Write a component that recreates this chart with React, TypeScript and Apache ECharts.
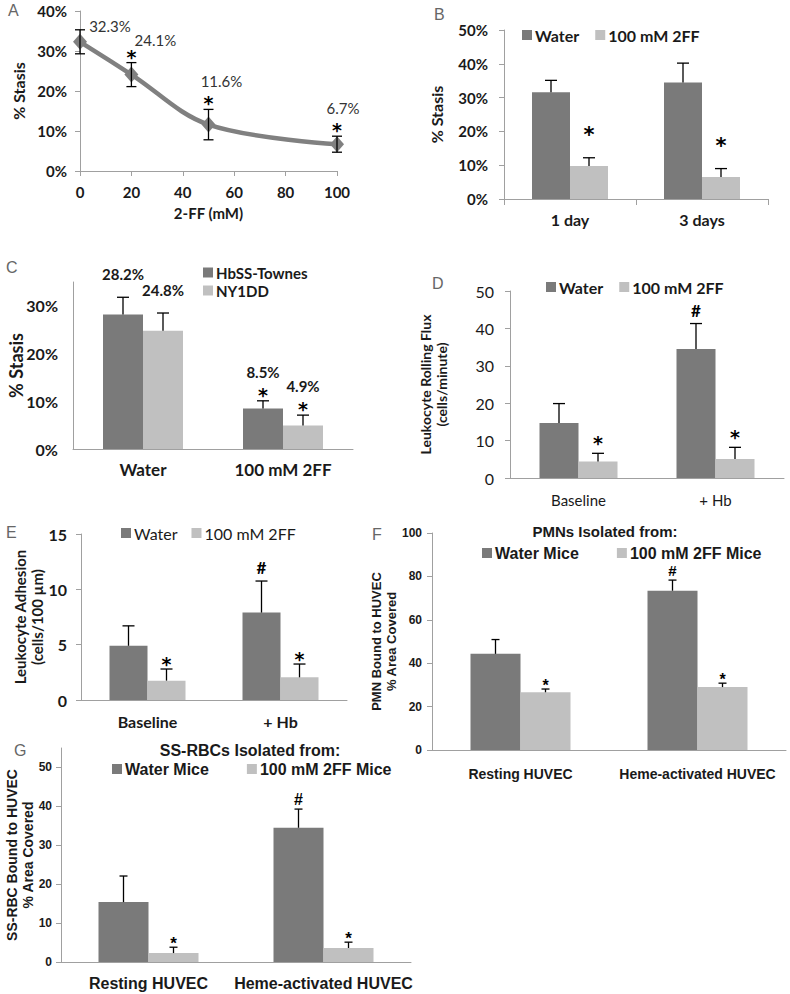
import React, { useEffect, useRef } from 'react';
import * as echarts from 'echarts';

// ---------- Panel A ----------
const aDose = [0, 20, 50, 100];
const aStasis = [32.3, 24.1, 11.6, 6.7];
const aErr = [3.0, 3.0, 3.8, 2.0];
const aSig = ['', '*', '*', '*'];
const aLabels = ['32.3%', '24.1%', '11.6%', '6.7%'];

// ---------- Panel B ----------
const bCats = ['1 day', '3 days'];
const bWater = [31.6, 34.5];
const bWaterErr = [3.5, 5.7];
const bFF = [9.8, 6.5];
const bFFErr = [2.4, 2.5];
const bFFSig = ['*', '*'];

// ---------- Panel C ----------
const cCats = ['Water', '100 mM 2FF'];
const cTownes = [28.2, 8.5];
const cTownesErr = [3.6, 1.6];
const cTownesSig = ['', '*'];
const cTownesLabels = ['28.2%', '8.5%'];
const cNY = [24.8, 4.9];
const cNYErr = [3.7, 2.2];
const cNYSig = ['', '*'];
const cNYLabels = ['24.8%', '4.9%'];

// ---------- Panel D ----------
const dCats = ['Baseline', '+ Hb'];
const dWater = [14.7, 34.5];
const dWaterErr = [5.2, 6.8];
const dWaterSig = ['', '#'];
const dFF = [4.4, 5.1];
const dFFErr = [2.2, 3.1];
const dFFSig = ['*', '*'];

// ---------- Panel E ----------
const eCats = ['Baseline', '+ Hb'];
const eWater = [4.9, 7.9];
const eWaterErr = [1.8, 2.85];
const eWaterSig = ['', '#'];
const eFF = [1.75, 2.05];
const eFFErr = [1.05, 1.2];
const eFFSig = ['*', '*'];

// ---------- Panel F ----------
const fCats = ['Resting HUVEC', 'Heme-activated HUVEC'];
const fWater = [44.3, 73.4];
const fWaterErr = [6.6, 4.9];
const fWaterSig = ['', '#'];
const fFF = [26.6, 29.0];
const fFFErr = [1.5, 1.8];
const fFFSig = ['*', '*'];

// ---------- Panel G ----------
const gCats = ['Resting HUVEC', 'Heme-activated HUVEC'];
const gWater = [15.4, 34.5];
const gWaterErr = [6.7, 4.8];
const gWaterSig = ['', '#'];
const gFF = [2.3, 3.6];
const gFFErr = [1.5, 1.5];
const gFFSig = ['*', '*'];

const CAL = 'Lato, "Open Sans", sans-serif';
const ARI = '"Liberation Sans", Arial, sans-serif';
const AST = '"DejaVu Sans", sans-serif';
const DARK = '#7a7a7a';
const LIGHT = '#c0c0c0';
const AXIS = '#a0a0a0';
const TXT = '#1a1a1a';

type Group = {
  name: string;
  values: number[];
  err: number[];
  color: string;
  sig?: string[];
  labels?: string[];
};

type BarOpts = {
  barWidth: number;
  cap: number;
  sigFont: string;
  sigSize: number;
  sigGap: number;
  hashFont: string;
  hashSize: number;
  hashGap: number;
  labelFont?: string;
  labelSize?: number;
  labelGap?: number;
  labelGapSig?: number;
};

function barSeries(idx: number, groups: Group[], o: BarOpts): any[] {
  const out: any[] = [];
  const n = groups.length;
  groups.forEach((g, gi) => {
    const dx = (gi - (n - 1) / 2) * o.barWidth;
    out.push({
      type: 'bar',
      name: g.name,
      xAxisIndex: idx,
      yAxisIndex: idx,
      barWidth: o.barWidth,
      barGap: '0%',
      data: g.values,
      itemStyle: { color: g.color },
      z: 2,
    });
    out.push({
      type: 'custom',
      name: 'err-' + idx + '-' + gi,
      xAxisIndex: idx,
      yAxisIndex: idx,
      encode: { x: 0, y: 1 },
      data: g.values.map((v, i) => [i, v, g.err[i]]),
      z: 3,
      renderItem: (params: any, api: any) => {
        const c = api.value(0);
        const v = api.value(1);
        const e = api.value(2);
        const base = api.coord([c, v]);
        const top = api.coord([c, v + e]);
        const x = base[0] + dx;
        const st = { stroke: '#000', lineWidth: 1.3 };
        return {
          type: 'group',
          children: [
            { type: 'line', shape: { x1: x, y1: base[1], x2: x, y2: top[1] }, style: st },
            { type: 'line', shape: { x1: x - o.cap, y1: top[1], x2: x + o.cap, y2: top[1] }, style: st },
          ],
        };
      },
    });
    out.push({
      type: 'custom',
      name: 'ann-' + idx + '-' + gi,
      xAxisIndex: idx,
      yAxisIndex: idx,
      encode: { x: 0, y: 1 },
      data: g.values.map((v, i) => [i, v + g.err[i]]),
      z: 4,
      silent: true,
      renderItem: (params: any, api: any) => {
        const i = params.dataIndex;
        const p = api.coord([api.value(0), api.value(1)]);
        const x = p[0] + dx;
        const children: any[] = [];
        const s = g.sig ? g.sig[i] : '';
        if (s) {
          const isHash = s === '#';
          children.push({
            type: 'text',
            x,
            y: p[1] - (isHash ? o.hashGap : o.sigGap),
            style: {
              text: s,
              fontFamily: isHash ? o.hashFont : o.sigFont,
              fontWeight: 'bold',
              fontSize: isHash ? o.hashSize : o.sigSize,
              fill: '#000',
              align: 'center',
              verticalAlign: 'middle',
            },
          });
        }
        if (g.labels && g.labels[i]) {
          children.push({
            type: 'text',
            x,
            y: p[1] - (s ? o.labelGapSig || 0 : o.labelGap || 0),
            style: {
              text: g.labels[i],
              fontFamily: o.labelFont,
              fontWeight: 'bold',
              fontSize: o.labelSize,
              fill: TXT,
              align: 'center',
              verticalAlign: 'middle',
            },
          });
        }
        return { type: 'group', children };
      },
    });
  });
  return out;
}

function catX(idx: number, data: string[], font: string, size: number, weight: string, margin: number, ticks = false) {
  return {
    gridIndex: idx,
    type: 'category',
    data,
    axisLine: { show: true, lineStyle: { color: AXIS, width: 1 } },
    axisTick: { show: ticks, length: 6, lineStyle: { color: AXIS } },
    axisLabel: { fontFamily: font, fontSize: size, fontWeight: weight, color: TXT, margin, interval: 0 },
    splitLine: { show: false },
  };
}

function valY(idx: number, max: number, interval: number, o: any) {
  return {
    gridIndex: idx,
    type: 'value',
    min: 0,
    max,
    interval,
    axisLine: { show: true, lineStyle: { color: AXIS, width: 1 } },
    axisTick: { show: o.ticks !== false, length: 5, lineStyle: { color: AXIS } },
    splitLine: { show: false },
    axisLabel: {
      fontFamily: o.font,
      fontSize: o.size,
      fontWeight: o.weight,
      color: TXT,
      margin: o.margin,
      formatter: o.pct ? '{value}%' : '{value}',
      showMaxLabel: o.showMax !== false,
    },
    name: o.name,
    nameLocation: 'middle',
    nameRotate: 90,
    nameGap: o.nameGap,
    nameMoveOverlap: false,
    nameTextStyle: {
      fontFamily: o.nameFont || o.font,
      fontSize: o.nameSize,
      fontWeight: 'bold',
      color: TXT,
      lineHeight: o.nameLH || o.nameSize + 2,
      align: 'center',
    },
  };
}

function legendCfg(left: number, top: number, data: string[], font: string, size: number, weight: string, gap: number, orient = 'horizontal') {
  return {
    left,
    top,
    orient,
    data,
    icon: 'rect',
    itemWidth: 10,
    itemHeight: 10,
    itemGap: gap,
    selectedMode: false,
    padding: 0,
    textStyle: { fontFamily: font, fontSize: size, fontWeight: weight, color: TXT, padding: [0, 0, 0, -2] },
  };
}

function letter(text: string, left: number, top: number) {
  return {
    text,
    left,
    top,
    padding: 0,
    textStyle: { fontFamily: ARI, fontSize: 16, fontWeight: 'normal', color: '#666' },
  };
}

export default function App() {
  const ref = useRef<HTMLDivElement>(null);
  useEffect(() => {
    document.body.style.margin = '0';
    const chart = echarts.init(ref.current!, null, { renderer: 'svg' });

    const aLabelShift = [
      [30, -16],
      [24, -35],
      [13, -44],
      [6, -36],
    ];

    const seriesA: any[] = [
      {
        type: 'line',
        name: 'stasisA',
        xAxisIndex: 0,
        yAxisIndex: 0,
        data: aDose.map((d, i) => [d, aStasis[i]]),
        smooth: 0.35,
        symbol: 'diamond',
        symbolSize: [14, 16],
        lineStyle: { color: '#808080', width: 4.5 },
        itemStyle: { color: '#808080' },
        z: 2,
      },
      {
        type: 'custom',
        name: 'errA',
        xAxisIndex: 0,
        yAxisIndex: 0,
        encode: { x: 0, y: 1 },
        data: aDose.map((d, i) => [d, aStasis[i], aErr[i]]),
        z: 3,
        renderItem: (params: any, api: any) => {
          const x = api.value(0);
          const v = api.value(1);
          const e = api.value(2);
          const hi = api.coord([x, v + e]);
          const lo = api.coord([x, v - e]);
          const st = { stroke: '#000', lineWidth: 1.3 };
          return {
            type: 'group',
            children: [
              { type: 'line', shape: { x1: hi[0], y1: hi[1], x2: lo[0], y2: lo[1] }, style: st },
              { type: 'line', shape: { x1: hi[0] - 5, y1: hi[1], x2: hi[0] + 5, y2: hi[1] }, style: st },
              { type: 'line', shape: { x1: lo[0] - 5, y1: lo[1], x2: lo[0] + 5, y2: lo[1] }, style: st },
            ],
          };
        },
      },
      {
        type: 'custom',
        name: 'annA',
        xAxisIndex: 0,
        yAxisIndex: 0,
        encode: { x: 0, y: 1 },
        data: aDose.map((d, i) => [d, aStasis[i], aErr[i]]),
        z: 4,
        silent: true,
        renderItem: (params: any, api: any) => {
          const i = params.dataIndex;
          const x = api.value(0);
          const v = api.value(1);
          const e = api.value(2);
          const p = api.coord([x, v]);
          const t = api.coord([x, v + e]);
          const children: any[] = [
            {
              type: 'text',
              x: p[0] + aLabelShift[i][0],
              y: p[1] + aLabelShift[i][1],
              style: { text: aLabels[i], fontFamily: CAL, fontSize: 15, fill: '#333', align: 'center', verticalAlign: 'middle' },
            },
          ];
          if (aSig[i]) {
            children.push({
              type: 'text',
              x: t[0],
              y: t[1] - 6,
              style: { text: aSig[i], fontFamily: AST, fontWeight: 'bold', fontSize: 19, fill: '#000', align: 'center', verticalAlign: 'middle' },
            });
          }
          return { type: 'group', children };
        },
      },
    ];

    const series = [
      ...seriesA,
      ...barSeries(1, [
        { name: 'Water', values: bWater, err: bWaterErr, color: DARK },
        { name: '100 mM 2FF', values: bFF, err: bFFErr, color: LIGHT, sig: bFFSig },
      ], { barWidth: 38, cap: 6, sigFont: AST, sigSize: 21, sigGap: 23, hashFont: CAL, hashSize: 16, hashGap: 12 }),
      ...barSeries(2, [
        { name: 'HbSS-Townes', values: cTownes, err: cTownesErr, color: DARK, sig: cTownesSig, labels: cTownesLabels },
        { name: 'NY1DD', values: cNY, err: cNYErr, color: LIGHT, sig: cNYSig, labels: cNYLabels },
      ], { barWidth: 40, cap: 6, sigFont: AST, sigSize: 19, sigGap: 6, hashFont: CAL, hashSize: 16, hashGap: 12, labelFont: CAL, labelSize: 15, labelGap: 23, labelGapSig: 29 }),
      ...barSeries(3, [
        { name: 'Water', values: dWater, err: dWaterErr, color: DARK, sig: dWaterSig },
        { name: '100 mM 2FF', values: dFF, err: dFFErr, color: LIGHT, sig: dFFSig },
      ], { barWidth: 39, cap: 6, sigFont: AST, sigSize: 19, sigGap: 10, hashFont: CAL, hashSize: 17, hashGap: 13 }),
      ...barSeries(4, [
        { name: 'Water', values: eWater, err: eWaterErr, color: DARK, sig: eWaterSig },
        { name: '100 mM 2FF', values: eFF, err: eFFErr, color: LIGHT, sig: eFFSig },
      ], { barWidth: 38, cap: 6, sigFont: AST, sigSize: 19, sigGap: 5, hashFont: CAL, hashSize: 17, hashGap: 14 }),
      ...barSeries(5, [
        { name: 'Water Mice', values: fWater, err: fWaterErr, color: DARK, sig: fWaterSig },
        { name: '100 mM 2FF Mice', values: fFF, err: fFFErr, color: LIGHT, sig: fFFSig },
      ], { barWidth: 50, cap: 4, sigFont: ARI, sigSize: 16, sigGap: 4, hashFont: ARI, hashSize: 15, hashGap: 10 }),
      ...barSeries(6, [
        { name: 'Water Mice', values: gWater, err: gWaterErr, color: DARK, sig: gWaterSig },
        { name: '100 mM 2FF Mice', values: gFF, err: gFFErr, color: LIGHT, sig: gFFSig },
      ], { barWidth: 50, cap: 4, sigFont: ARI, sigSize: 17, sigGap: 4, hashFont: ARI, hashSize: 16, hashGap: 10 }),
    ];

    const option: any = {
      animation: false,
      backgroundColor: '#fff',
      title: [
        letter('A', 8, 2),
        letter('B', 434, 6),
        letter('C', 6, 259),
        letter('D', 432, 275),
        letter('E', 6, 524),
        letter('F', 372, 526),
        letter('G', 14, 742),
        {
          text: 'PMNs Isolated from:',
          left: 605,
          top: 524,
          textAlign: 'center',
          padding: 0,
          textStyle: { fontFamily: ARI, fontSize: 15, fontWeight: 'bold', color: TXT },
        },
        {
          text: 'SS-RBCs Isolated from:',
          left: 250,
          top: 742,
          textAlign: 'center',
          padding: 0,
          textStyle: { fontFamily: ARI, fontSize: 16, fontWeight: 'bold', color: TXT },
        },
      ],
      legend: [
        legendCfg(522, 27, ['Water', '100 mM 2FF'], CAL, 16, 'bold', 16),
        legendCfg(203, 265, ['HbSS-Townes', 'NY1DD'], CAL, 15, 'bold', 3, 'vertical'),
        legendCfg(546, 279, ['Water', '100 mM 2FF'], CAL, 16, 'bold', 16),
        legendCfg(121, 525, ['Water', '100 mM 2FF'], CAL, 16, 'normal', 14),
        legendCfg(482, 545, ['Water Mice', '100 mM 2FF Mice'], ARI, 16, 'bold', 38),
        legendCfg(112, 761, ['Water Mice', '100 mM 2FF Mice'], ARI, 16, 'bold', 38),
      ],
      grid: [
        { left: 80, top: 11, width: 257, height: 160 },
        { left: 504, top: 30, width: 264, height: 169 },
        { left: 73, top: 282, width: 280, height: 167 },
        { left: 510, top: 291, width: 274, height: 187 },
        { left: 81, top: 534, width: 266, height: 166 },
        { left: 432, top: 533, width: 354, height: 217 },
        { left: 61, top: 748, width: 350, height: 214 },
      ],
      xAxis: [
        {
          gridIndex: 0,
          type: 'value',
          min: 0,
          max: 100,
          interval: 20,
          axisLine: { show: true, lineStyle: { color: AXIS } },
          axisTick: { show: true, length: 5, lineStyle: { color: AXIS } },
          splitLine: { show: false },
          axisLabel: { fontFamily: CAL, fontSize: 15, fontWeight: 'bold', color: TXT, margin: 13 },
          name: '2-FF (mM)',
          nameLocation: 'middle',
          nameGap: 34,
          nameMoveOverlap: false,
          nameTextStyle: { fontFamily: CAL, fontSize: 15, fontWeight: 'bold', color: TXT },
        },
        catX(1, bCats, CAL, 16, 'bold', 12, true),
        catX(2, cCats, CAL, 17, 'bold', 12),
        catX(3, dCats, CAL, 15, 'normal', 14),
        catX(4, eCats, CAL, 16, 'bold', 13),
        catX(5, fCats, ARI, 14, 'bold', 17),
        catX(6, gCats, ARI, 16, 'bold', 13),
      ],
      yAxis: [
        valY(0, 40, 10, { font: CAL, size: 15, weight: 'bold', margin: 13, pct: true, name: '% Stasis', nameGap: 53, nameSize: 16 }),
        valY(1, 50, 10, { font: CAL, size: 15, weight: 'bold', margin: 16, pct: true, name: '% Stasis', nameGap: 59, nameSize: 16 }),
        valY(2, 35, 10, { font: CAL, size: 16, weight: 'bold', margin: 15, pct: true, showMax: false, ticks: false, name: '% Stasis', nameGap: 47, nameSize: 18 }),
        valY(3, 50, 10, { font: CAL, size: 16, weight: 'normal', margin: 16, name: 'Leukocyte Rolling Flux\n(cells/minute)', nameGap: 61, nameSize: 14, nameLH: 16 }),
        valY(4, 15, 5, { font: CAL, size: 16, weight: 'bold', margin: 14, name: 'Leukocyte Adhesion\n(cells/100 µm)', nameGap: 36, nameSize: 15, nameLH: 17 }),
        valY(5, 100, 20, { font: ARI, size: 12, weight: 'bold', margin: 10, name: 'PMN Bound to HUVEC\n% Area Covered', nameGap: 33, nameSize: 13, nameLH: 15, nameFont: ARI }),
        valY(6, 55, 10, { font: ARI, size: 12, weight: 'bold', margin: 9, showMax: false, name: 'SS-RBC Bound to HUVEC\n% Area Covered', nameGap: 25, nameSize: 14, nameLH: 16, nameFont: ARI }),
      ],
      series,
    };

    chart.setOption(option);
    return () => chart.dispose();
  }, []);

  return <div ref={ref} style={{ width: 790, height: 994, background: '#fff' }} />;
}
